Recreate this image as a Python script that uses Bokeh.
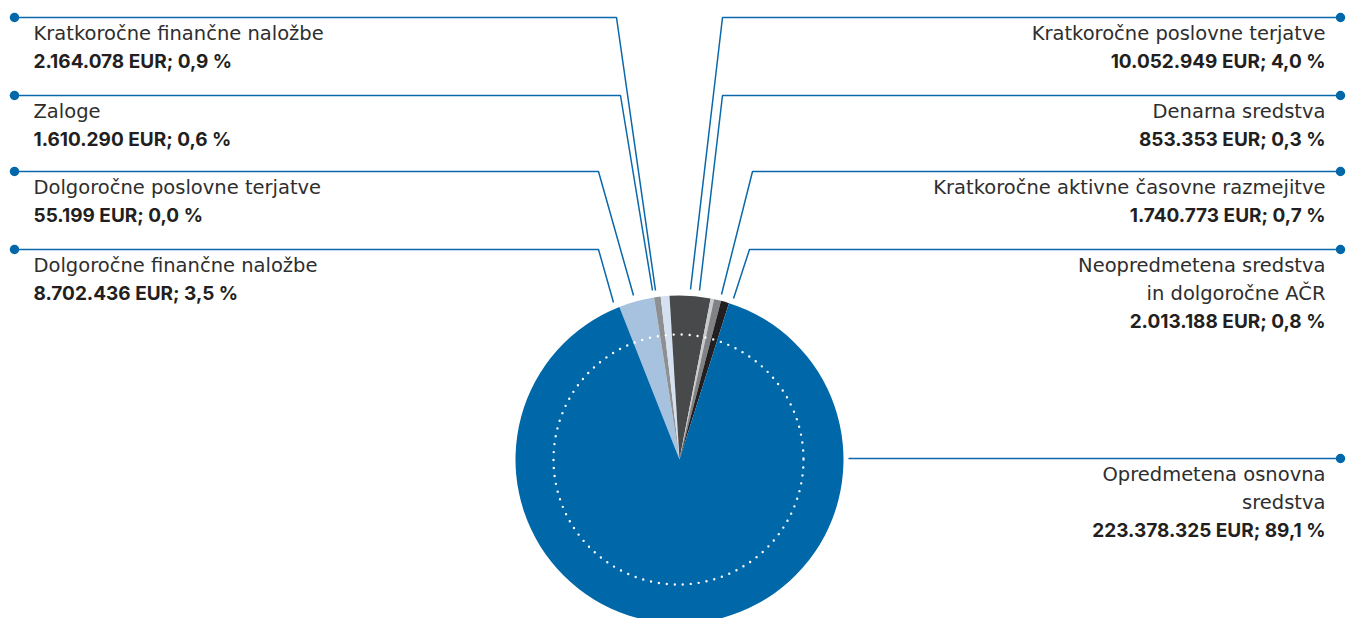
import math
from bokeh.plotting import figure
from bokeh.models import Range1d
from bokeh.core.properties import value
from bokeh.embed import file_html
from bokeh.resources import INLINE

# ---- data (pie order, clockwise from the left edge of the small slices) ----
categories = [
    "Dolgoročne finančne naložbe",
    "Dolgoročne poslovne terjatve",
    "Zaloge",
    "Kratkoročne finančne naložbe",
    "Kratkoročne poslovne terjatve",
    "Denarna sredstva",
    "Kratkoročne aktivne časovne razmejitve",
    "Neopredmetena sredstva in dolgoročne AČR",
    "Opredmetena osnovna sredstva",
]
amounts = [8702436, 55199, 1610290, 2164078, 10052949, 853353, 1740773, 2013188, 223378325]
slice_colors = ["#a7c2df", "#9b9c9e", "#8d8f92", "#d5e1f0", "#48494b",
                "#c9cacc", "#808285", "#231f20", "#0067a9"]
# label text lines as shown
label_lines = {
    "Dolgoročne finančne naložbe": ["Dolgoročne finančne naložbe"],
    "Dolgoročne poslovne terjatve": ["Dolgoročne poslovne terjatve"],
    "Zaloge": ["Zaloge"],
    "Kratkoročne finančne naložbe": ["Kratkoročne finančne naložbe"],
    "Kratkoročne poslovne terjatve": ["Kratkoročne poslovne terjatve"],
    "Denarna sredstva": ["Denarna sredstva"],
    "Kratkoročne aktivne časovne razmejitve": ["Kratkoročne aktivne časovne razmejitve"],
    "Neopredmetena sredstva in dolgoročne AČR": ["Neopredmetena sredstva", "in dolgoročne AČR"],
    "Opredmetena osnovna sredstva": ["Opredmetena osnovna", "sredstva"],
}

# ---- layout (screen pixels of the 1346x618 window) ----
W, H = 1346, 618
CX, CY, R = 679, 459, 164
START_DEG = -21.5          # clockwise from 12 o'clock
LINE_COLOR = "#0a68ab"
TEXT_COLOR = "#231f20"
NAME_FONT = "DejaVu Sans"
NAME_FS = "19.5px"
VAL_FONT = "Inter"
VAL_FS = "19px"
LINE_STEP = 28
FIRST_BASE = 16

# side, dot_y, elbow_x, end (x, y)
leader = {
    "Kratkoročne finančne naložbe": ("L", 17, 616, (655, 290)),
    "Zaloge": ("L", 95, 620, (652, 290)),
    "Dolgoročne poslovne terjatve": ("L", 171, 598, (633, 295)),
    "Dolgoročne finančne naložbe": ("L", 249, 598, (613, 302)),
    "Kratkoročne poslovne terjatve": ("R", 17, 722, (690, 289)),
    "Denarna sredstva": ("R", 95, 722, (699, 290)),
    "Kratkoročne aktivne časovne razmejitve": ("R", 171, 752, (721, 294)),
    "Neopredmetena sredstva in dolgoročne AČR": ("R", 249, 749, (733, 298)),
    "Opredmetena osnovna sredstva": ("R", 458, 848, (848, 458)),
}


def Y(sy):
    return H - sy


p = figure(width=W, height=H, x_range=Range1d(0, W), y_range=Range1d(0, H),
           output_backend="svg", toolbar_location=None, min_border=0)
p.axis.visible = False
p.grid.visible = False
p.outline_line_color = None
p.background_fill_color = "white"
p.border_fill_color = "white"

total = sum(amounts)

# ---- pie ----
starts, ends = [], []
theta = START_DEG
for a in amounts:
    span = a / total * 360.0
    ta, tb = theta, theta + span
    starts.append(math.radians(90 - tb))
    ends.append(math.radians(90 - ta))
    theta = tb

p.wedge(x=[CX] * len(amounts), y=[Y(CY)] * len(amounts), radius=R,
        start_angle=starts, end_angle=ends, fill_color=slice_colors,
        line_color=None, direction="anticlock")

# dotted inner circle
p.circle(x=[CX - 1], y=[Y(CY)], radius=125, fill_color=None, line_color="white",
         line_width=2.4, line_dash="0 8", line_cap="round")

# ---- leaders, dots and labels ----
xs, ys, dx, dy = [], [], [], []
for cat, amt in zip(categories, amounts):
    side, doty, elbow, (ex, ey) = leader[cat]
    dotx = 14 if side == "L" else 1340
    xs.append([dotx, elbow, ex])
    ys.append([Y(doty), Y(doty), Y(ey)])
    dx.append(dotx)
    dy.append(Y(doty))

    pct = amt / total * 100
    val = f"{amt:,}".replace(",", ".") + " EUR; " + f"{pct:.1f}".replace(".", ",") + " %"
    lines = label_lines[cat]
    tx = 33 if side == "L" else 1325
    align = "left" if side == "L" else "right"
    by = doty + FIRST_BASE
    for ln in lines:
        p.text(x=[tx], y=[Y(by)], text=[ln], text_font=value(NAME_FONT), text_font_size=NAME_FS,
               text_align=align, text_baseline="alphabetic", text_color="#2e2e2e")
        by += LINE_STEP
    p.text(x=[tx], y=[Y(by)], text=[val], text_font=value(VAL_FONT), text_font_size=VAL_FS,
           text_align=align, text_baseline="alphabetic", text_color=TEXT_COLOR,
           text_font_style="bold")

p.multi_line(xs=xs, ys=ys, line_color=LINE_COLOR, line_width=1.5)
p.scatter(x=dx, y=dy, size=9.5, marker="circle", fill_color="#0067a9", line_color=None)

open("out.html", "w").write(file_html(p, INLINE))
